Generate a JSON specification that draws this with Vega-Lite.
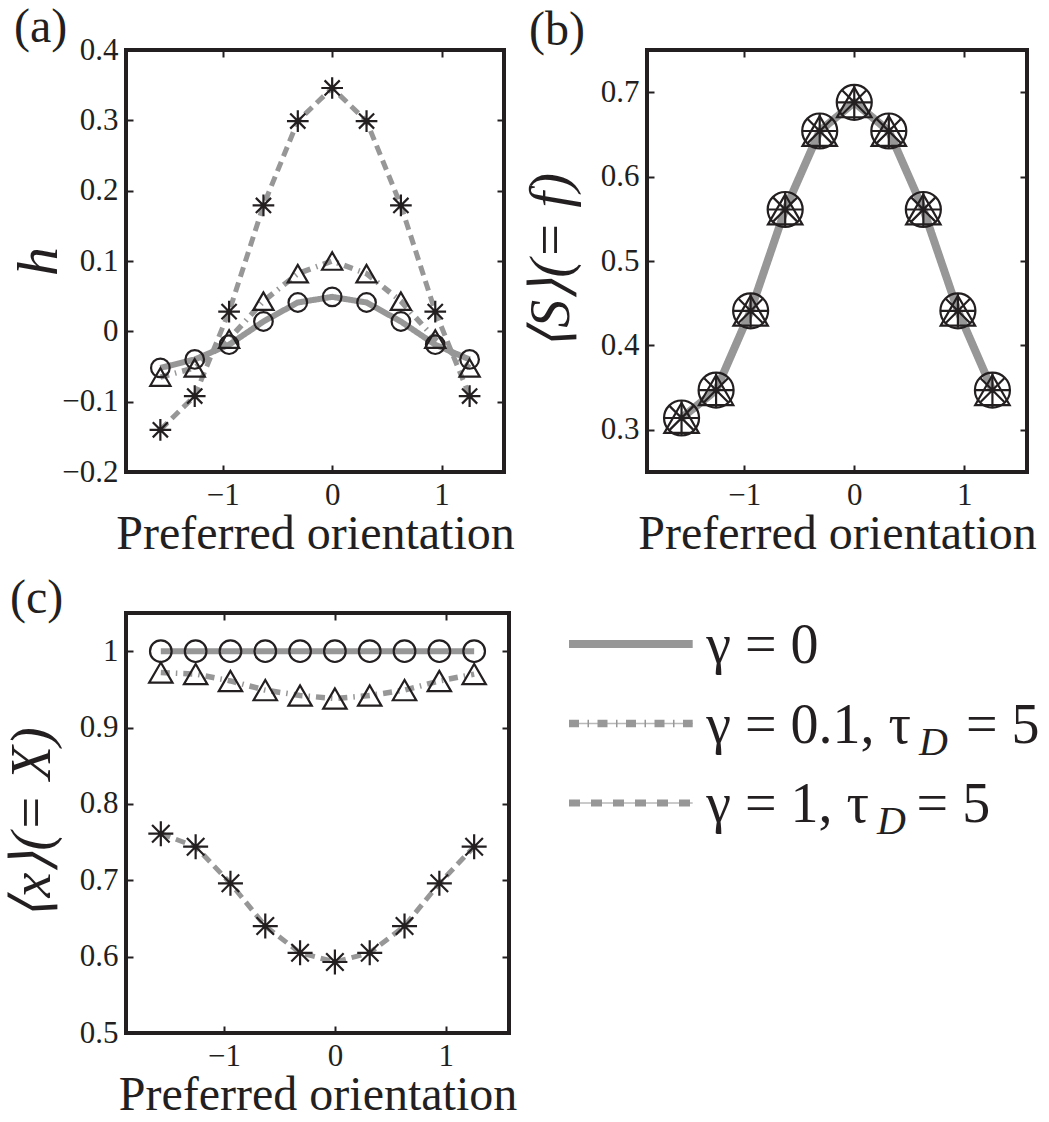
{
  "$schema": "https://vega.github.io/schema/vega-lite/v6.json",
  "background": "white",
  "padding": {"left": 2, "top": 2, "right": 0, "bottom": 0},
  "config": {
    "font": "'Liberation Serif', 'Times New Roman', serif",
    "view": {"stroke": "#231f20", "strokeWidth": 4},
    "axis": {
      "labelFont": "'Liberation Serif', 'Times New Roman', serif", "labelFontSize": 31, "labelColor": "#231f20",
      "titleFont": "'Liberation Serif', 'Times New Roman', serif", "titleFontWeight": "normal", "titleColor": "#231f20",
      "grid": false, "domain": false, "tickColor": "#231f20", "tickWidth": 2, "tickSize": -7
    },
    "title": {"font": "'Liberation Serif', 'Times New Roman', serif", "fontSize": 48, "fontWeight": "normal", "color": "#231f20", "anchor": "start", "frame": "group", "baseline": "alphabetic"},
    "text": {"font": "'Liberation Serif', 'Times New Roman', serif"}
  },
  "datasets": {
    "h": [
      {"theta": -1.5708, "g": "gamma=0", "v": -0.052}, {"theta": -1.2566, "g": "gamma=0", "v": -0.040},
      {"theta": -0.9425, "g": "gamma=0", "v": -0.019}, {"theta": -0.6283, "g": "gamma=0", "v": 0.014},
      {"theta": -0.3142, "g": "gamma=0", "v": 0.041}, {"theta": 0, "g": "gamma=0", "v": 0.049},
      {"theta": 0.3142, "g": "gamma=0", "v": 0.041}, {"theta": 0.6283, "g": "gamma=0", "v": 0.014},
      {"theta": 0.9425, "g": "gamma=0", "v": -0.019}, {"theta": 1.2566, "g": "gamma=0", "v": -0.040},
      {"theta": -1.5708, "g": "gamma=0.1", "v": -0.065}, {"theta": -1.2566, "g": "gamma=0.1", "v": -0.052},
      {"theta": -0.9425, "g": "gamma=0.1", "v": -0.011}, {"theta": -0.6283, "g": "gamma=0.1", "v": 0.043},
      {"theta": -0.3142, "g": "gamma=0.1", "v": 0.082}, {"theta": 0, "g": "gamma=0.1", "v": 0.100},
      {"theta": 0.3142, "g": "gamma=0.1", "v": 0.082}, {"theta": 0.6283, "g": "gamma=0.1", "v": 0.043},
      {"theta": 0.9425, "g": "gamma=0.1", "v": -0.011}, {"theta": 1.2566, "g": "gamma=0.1", "v": -0.052},
      {"theta": -1.5708, "g": "gamma=1", "v": -0.140}, {"theta": -1.2566, "g": "gamma=1", "v": -0.092},
      {"theta": -0.9425, "g": "gamma=1", "v": 0.028}, {"theta": -0.6283, "g": "gamma=1", "v": 0.179},
      {"theta": -0.3142, "g": "gamma=1", "v": 0.299}, {"theta": 0, "g": "gamma=1", "v": 0.346},
      {"theta": 0.3142, "g": "gamma=1", "v": 0.299}, {"theta": 0.6283, "g": "gamma=1", "v": 0.179},
      {"theta": 0.9425, "g": "gamma=1", "v": 0.028}, {"theta": 1.2566, "g": "gamma=1", "v": -0.092}
    ],
    "S": [
      {"theta": -1.5708, "g": "gamma=0", "v": 0.314}, {"theta": -1.2566, "g": "gamma=0", "v": 0.347},
      {"theta": -0.9425, "g": "gamma=0", "v": 0.441}, {"theta": -0.6283, "g": "gamma=0", "v": 0.561},
      {"theta": -0.3142, "g": "gamma=0", "v": 0.654}, {"theta": 0, "g": "gamma=0", "v": 0.688},
      {"theta": 0.3142, "g": "gamma=0", "v": 0.654}, {"theta": 0.6283, "g": "gamma=0", "v": 0.561},
      {"theta": 0.9425, "g": "gamma=0", "v": 0.441}, {"theta": 1.2566, "g": "gamma=0", "v": 0.347},
      {"theta": -1.5708, "g": "gamma=0.1", "v": 0.314}, {"theta": -1.2566, "g": "gamma=0.1", "v": 0.347},
      {"theta": -0.9425, "g": "gamma=0.1", "v": 0.441}, {"theta": -0.6283, "g": "gamma=0.1", "v": 0.561},
      {"theta": -0.3142, "g": "gamma=0.1", "v": 0.654}, {"theta": 0, "g": "gamma=0.1", "v": 0.688},
      {"theta": 0.3142, "g": "gamma=0.1", "v": 0.654}, {"theta": 0.6283, "g": "gamma=0.1", "v": 0.561},
      {"theta": 0.9425, "g": "gamma=0.1", "v": 0.441}, {"theta": 1.2566, "g": "gamma=0.1", "v": 0.347},
      {"theta": -1.5708, "g": "gamma=1", "v": 0.314}, {"theta": -1.2566, "g": "gamma=1", "v": 0.347},
      {"theta": -0.9425, "g": "gamma=1", "v": 0.441}, {"theta": -0.6283, "g": "gamma=1", "v": 0.561},
      {"theta": -0.3142, "g": "gamma=1", "v": 0.654}, {"theta": 0, "g": "gamma=1", "v": 0.688},
      {"theta": 0.3142, "g": "gamma=1", "v": 0.654}, {"theta": 0.6283, "g": "gamma=1", "v": 0.561},
      {"theta": 0.9425, "g": "gamma=1", "v": 0.441}, {"theta": 1.2566, "g": "gamma=1", "v": 0.347}
    ],
    "X": [
      {"theta": -1.5708, "g": "gamma=0", "v": 1.0}, {"theta": -1.2566, "g": "gamma=0", "v": 1.0},
      {"theta": -0.9425, "g": "gamma=0", "v": 1.0}, {"theta": -0.6283, "g": "gamma=0", "v": 1.0},
      {"theta": -0.3142, "g": "gamma=0", "v": 1.0}, {"theta": 0, "g": "gamma=0", "v": 1.0},
      {"theta": 0.3142, "g": "gamma=0", "v": 1.0}, {"theta": 0.6283, "g": "gamma=0", "v": 1.0},
      {"theta": 0.9425, "g": "gamma=0", "v": 1.0}, {"theta": 1.2566, "g": "gamma=0", "v": 1.0},
      {"theta": -1.5708, "g": "gamma=0.1", "v": 0.972}, {"theta": -1.2566, "g": "gamma=0.1", "v": 0.970},
      {"theta": -0.9425, "g": "gamma=0.1", "v": 0.961}, {"theta": -0.6283, "g": "gamma=0.1", "v": 0.949},
      {"theta": -0.3142, "g": "gamma=0.1", "v": 0.942}, {"theta": 0, "g": "gamma=0.1", "v": 0.938},
      {"theta": 0.3142, "g": "gamma=0.1", "v": 0.942}, {"theta": 0.6283, "g": "gamma=0.1", "v": 0.949},
      {"theta": 0.9425, "g": "gamma=0.1", "v": 0.961}, {"theta": 1.2566, "g": "gamma=0.1", "v": 0.970},
      {"theta": -1.5708, "g": "gamma=1", "v": 0.761}, {"theta": -1.2566, "g": "gamma=1", "v": 0.744},
      {"theta": -0.9425, "g": "gamma=1", "v": 0.696}, {"theta": -0.6283, "g": "gamma=1", "v": 0.640},
      {"theta": -0.3142, "g": "gamma=1", "v": 0.605}, {"theta": 0, "g": "gamma=1", "v": 0.593},
      {"theta": 0.3142, "g": "gamma=1", "v": 0.605}, {"theta": 0.6283, "g": "gamma=1", "v": 0.640},
      {"theta": 0.9425, "g": "gamma=1", "v": 0.696}, {"theta": 1.2566, "g": "gamma=1", "v": 0.744}
    ],
    "legend": [
      {"g": "gamma=0", "label": "γ = 0"},
      {"g": "gamma=0.1", "label": "γ = 0.1, τ"},
      {"g": "gamma=1", "label": "γ = 1, τ"}
    ]
  },
  "resolve": {"scale": {"size": "independent", "strokeWidth": "independent", "strokeDash": "independent", "shape": "independent"}},
  "vconcat": [
    {
      "spacing": 4,
      "resolve": {"scale": {"size": "independent", "strokeWidth": "independent", "strokeDash": "independent", "shape": "independent"}},
      "hconcat": [
        {
          "width": 378, "height": 422,
          "title": {"text": "(a)", "dx": -112, "offset": -18},
          "data": {"name": "h"},
          "layer": [
            {
              "mark": {"type": "line", "color": "#979797"},
              "encoding": {
                "x": {"field": "theta", "type": "quantitative",
                      "scale": {"domain": [-1.885, 1.571], "nice": false, "zero": false},
                      "axis": {"orient": "bottom", "values": [-1, 0, 1], "format": "~g", "title": "Preferred orientation", "titleFontSize": 48, "labelPadding": 15, "titlePadding": 0}},
                "y": {"field": "v", "type": "quantitative",
                      "scale": {"domain": [-0.2, 0.4], "nice": false, "zero": false},
                      "axis": {"orient": "left", "values": [-0.2, -0.1, 0, 0.1, 0.2, 0.3, 0.4], "format": "~g", "title": "h", "titleFontSize": 58, "titleFontStyle": "italic", "titleBaseline": "alphabetic", "labelPadding": 15, "titlePadding": 5}},
                "strokeDash": {"field": "g", "type": "nominal", "scale": {"domain": ["gamma=0", "gamma=0.1", "gamma=1"], "range": [[1, 0], [9, 6, 1.5, 6], [10, 6]]}, "legend": null},
                "strokeWidth": {"field": "g", "type": "ordinal", "scale": {"domain": ["gamma=0", "gamma=0.1", "gamma=1"], "range": [6, 5, 5]}, "legend": null}
              }
            },
            {
              "mark": {"type": "point", "filled": false, "color": "#231f20", "strokeWidth": 2.2, "opacity": 1},
              "encoding": {
                "x": {"field": "theta", "type": "quantitative", "axis": {"orient": "top", "labels": false, "title": null, "values": [-1, 0, 1]}},
                "y": {"field": "v", "type": "quantitative", "axis": {"orient": "right", "labels": false, "title": null, "values": [-0.2, -0.1, 0, 0.1, 0.2, 0.3, 0.4]}},
                "shape": {"field": "g", "type": "nominal", "scale": {"domain": ["gamma=0", "gamma=0.1", "gamma=1"], "range": ["circle", "triangle-up", "M-1,0L1,0M0,-1L0,1M-0.7,-0.7L0.7,0.7M-0.7,0.7L0.7,-0.7"]}, "legend": null},
                "size": {"field": "g", "type": "ordinal", "scale": {"domain": ["gamma=0", "gamma=0.1", "gamma=1"], "range": [346, 470, 324]}, "legend": null}
              }
            }
          ],
          "resolve": {"axis": {"x": "independent", "y": "independent"}}
        },
        {
          "width": 380, "height": 422,
          "title": {"text": "(b)", "dx": -118, "offset": -6},
          "data": {"name": "S"},
          "layer": [
            {
              "mark": {"type": "line", "color": "#979797"},
              "encoding": {
                "x": {"field": "theta", "type": "quantitative",
                      "scale": {"domain": [-1.885, 1.571], "nice": false, "zero": false},
                      "axis": {"orient": "bottom", "values": [-1, 0, 1], "format": "~g", "title": "Preferred orientation", "titleFontSize": 48, "labelPadding": 15, "titlePadding": 0}},
                "y": {"field": "v", "type": "quantitative",
                      "scale": {"domain": [0.25, 0.75], "nice": false, "zero": false},
                      "axis": {"orient": "left", "values": [0.3, 0.4, 0.5, 0.6, 0.7], "format": "~g", "title": "⟨S⟩(= f)", "titleFontSize": 56, "titleFontStyle": "italic", "titleBaseline": "alphabetic", "labelPadding": 15, "titlePadding": 32}},
                "strokeDash": {"field": "g", "type": "nominal", "scale": {"domain": ["gamma=0", "gamma=0.1", "gamma=1"], "range": [[1, 0], [9, 6, 1.5, 6], [10, 6]]}, "legend": null},
                "strokeWidth": {"field": "g", "type": "ordinal", "scale": {"domain": ["gamma=0", "gamma=0.1", "gamma=1"], "range": [8, 5, 5]}, "legend": null}
              }
            },
            {
              "mark": {"type": "point", "filled": false, "color": "#231f20", "strokeWidth": 2.2, "opacity": 1},
              "encoding": {
                "x": {"field": "theta", "type": "quantitative", "axis": {"orient": "top", "labels": false, "title": null, "values": [-1, 0, 1]}},
                "y": {"field": "v", "type": "quantitative", "axis": {"orient": "right", "labels": false, "title": null, "values": [0.3, 0.4, 0.5, 0.6, 0.7]}},
                "shape": {"field": "g", "type": "nominal", "scale": {"domain": ["gamma=0", "gamma=0.1", "gamma=1"], "range": ["circle", "triangle-up", "M-1,0L1,0M0,-1L0,1M-0.7,-0.7L0.7,0.7M-0.7,0.7L0.7,-0.7"]}, "legend": null},
                "size": {"field": "g", "type": "ordinal", "scale": {"domain": ["gamma=0", "gamma=0.1", "gamma=1"], "range": [1225, 1150, 400]}, "legend": null}
              }
            }
          ],
          "resolve": {"axis": {"x": "independent", "y": "independent"}}
        }
      ]
    },
    {
      "spacing": 46,
      "resolve": {"scale": {"size": "independent", "strokeWidth": "independent", "strokeDash": "independent", "shape": "independent"}},
      "hconcat": [
        {
          "width": 383, "height": 420,
          "title": {"text": "(c)", "dx": -116, "offset": -11},
          "data": {"name": "X"},
          "layer": [
            {
              "mark": {"type": "line", "color": "#979797"},
              "encoding": {
                "x": {"field": "theta", "type": "quantitative",
                      "scale": {"domain": [-1.885, 1.571], "nice": false, "zero": false},
                      "axis": {"orient": "bottom", "values": [-1, 0, 1], "format": "~g", "title": "Preferred orientation", "titleFontSize": 48, "labelPadding": 15, "titlePadding": 0}},
                "y": {"field": "v", "type": "quantitative",
                      "scale": {"domain": [0.5, 1.05], "nice": false, "zero": false},
                      "axis": {"orient": "left", "values": [0.5, 0.6, 0.7, 0.8, 0.9, 1], "format": "~g", "title": "⟨x⟩(= X)", "titleFontSize": 56, "titleFontStyle": "italic", "titleBaseline": "alphabetic", "labelPadding": 15, "titlePadding": 30}},
                "strokeDash": {"field": "g", "type": "nominal", "scale": {"domain": ["gamma=0", "gamma=0.1", "gamma=1"], "range": [[1, 0], [9, 6, 1.5, 6], [10, 6]]}, "legend": null},
                "strokeWidth": {"field": "g", "type": "ordinal", "scale": {"domain": ["gamma=0", "gamma=0.1", "gamma=1"], "range": [6, 5, 5]}, "legend": null}
              }
            },
            {
              "mark": {"type": "point", "filled": false, "color": "#231f20", "strokeWidth": 2.2, "opacity": 1},
              "encoding": {
                "x": {"field": "theta", "type": "quantitative", "axis": {"orient": "top", "labels": false, "title": null, "values": [-1, 0, 1]}},
                "y": {"field": "v", "type": "quantitative", "axis": {"orient": "right", "labels": false, "title": null, "values": [0.5, 0.6, 0.7, 0.8, 0.9, 1]}},
                "shape": {"field": "g", "type": "nominal", "scale": {"domain": ["gamma=0", "gamma=0.1", "gamma=1"], "range": ["circle", "triangle-up", "M-1,0L1,0M0,-1L0,1M-0.7,-0.7L0.7,0.7M-0.7,0.7L0.7,-0.7"]}, "legend": null},
                "size": {"field": "g", "type": "ordinal", "scale": {"domain": ["gamma=0", "gamma=0.1", "gamma=1"], "range": [467, 625, 450]}, "legend": null}
              }
            }
          ],
          "resolve": {"axis": {"x": "independent", "y": "independent"}}
        },
        {
          "width": 470, "height": 221,
          "view": {"stroke": null},
          "data": {"name": "legend"},
          "layer": [
            {
              "transform": [{"filter": "datum.g !== 'gamma=0'"}],
              "mark": {"type": "rule", "color": "#b8b8b8", "strokeWidth": 1.5},
              "encoding": {
                "x": {"datum": 0, "type": "quantitative", "scale": {"domain": [0, 3.8], "nice": false, "zero": false}, "axis": null},
                "x2": {"datum": 1},
                "y": {"field": "g", "type": "nominal", "scale": {"type": "point", "domain": ["gamma=0", "gamma=0.1", "gamma=1"], "padding": 0.39}, "axis": null}
              }
            },
            {
              "mark": {"type": "rule", "color": "#979797"},
              "encoding": {
                "x": {"datum": 0, "type": "quantitative"},
                "x2": {"datum": 1},
                "y": {"field": "g", "type": "nominal"},
                "strokeDash": {"field": "g", "type": "nominal", "scale": {"domain": ["gamma=0", "gamma=0.1", "gamma=1"], "range": [[1, 0], [10, 8.5, 1.5, 8.5], [11, 11]]}, "legend": null},
                "strokeWidth": {"field": "g", "type": "ordinal", "scale": {"domain": ["gamma=0", "gamma=0.1", "gamma=1"], "range": [8, 7, 7]}, "legend": null}
              }
            },
            {
              "mark": {"type": "text", "align": "left", "baseline": "alphabetic", "dy": 19, "fontSize": 56, "color": "#231f20"},
              "encoding": {
                "x": {"datum": 1.11, "type": "quantitative"},
                "y": {"field": "g", "type": "nominal"},
                "text": {"field": "label"}
              }
            },
            {
              "transform": [{"filter": "datum.g === 'gamma=0.1'"}],
              "layer": [
                {
                  "mark": {"type": "text", "align": "left", "baseline": "alphabetic", "dy": 31, "fontSize": 40, "fontStyle": "italic", "color": "#231f20"},
                  "encoding": {"x": {"datum": 2.83, "type": "quantitative"}, "y": {"field": "g", "type": "nominal"}, "text": {"value": "D"}}
                },
                {
                  "mark": {"type": "text", "align": "left", "baseline": "alphabetic", "dy": 19, "fontSize": 56, "color": "#231f20"},
                  "encoding": {"x": {"datum": 3.21, "type": "quantitative"}, "y": {"field": "g", "type": "nominal"}, "text": {"value": "= 5"}}
                }
              ]
            },
            {
              "transform": [{"filter": "datum.g === 'gamma=1'"}],
              "layer": [
                {
                  "mark": {"type": "text", "align": "left", "baseline": "alphabetic", "dy": 31, "fontSize": 40, "fontStyle": "italic", "color": "#231f20"},
                  "encoding": {"x": {"datum": 2.49, "type": "quantitative"}, "y": {"field": "g", "type": "nominal"}, "text": {"value": "D"}}
                },
                {
                  "mark": {"type": "text", "align": "left", "baseline": "alphabetic", "dy": 19, "fontSize": 56, "color": "#231f20"},
                  "encoding": {"x": {"datum": 2.81, "type": "quantitative"}, "y": {"field": "g", "type": "nominal"}, "text": {"value": "= 5"}}
                }
              ]
            }
          ]
        }
      ]
    }
  ],
  "spacing": 13
}
